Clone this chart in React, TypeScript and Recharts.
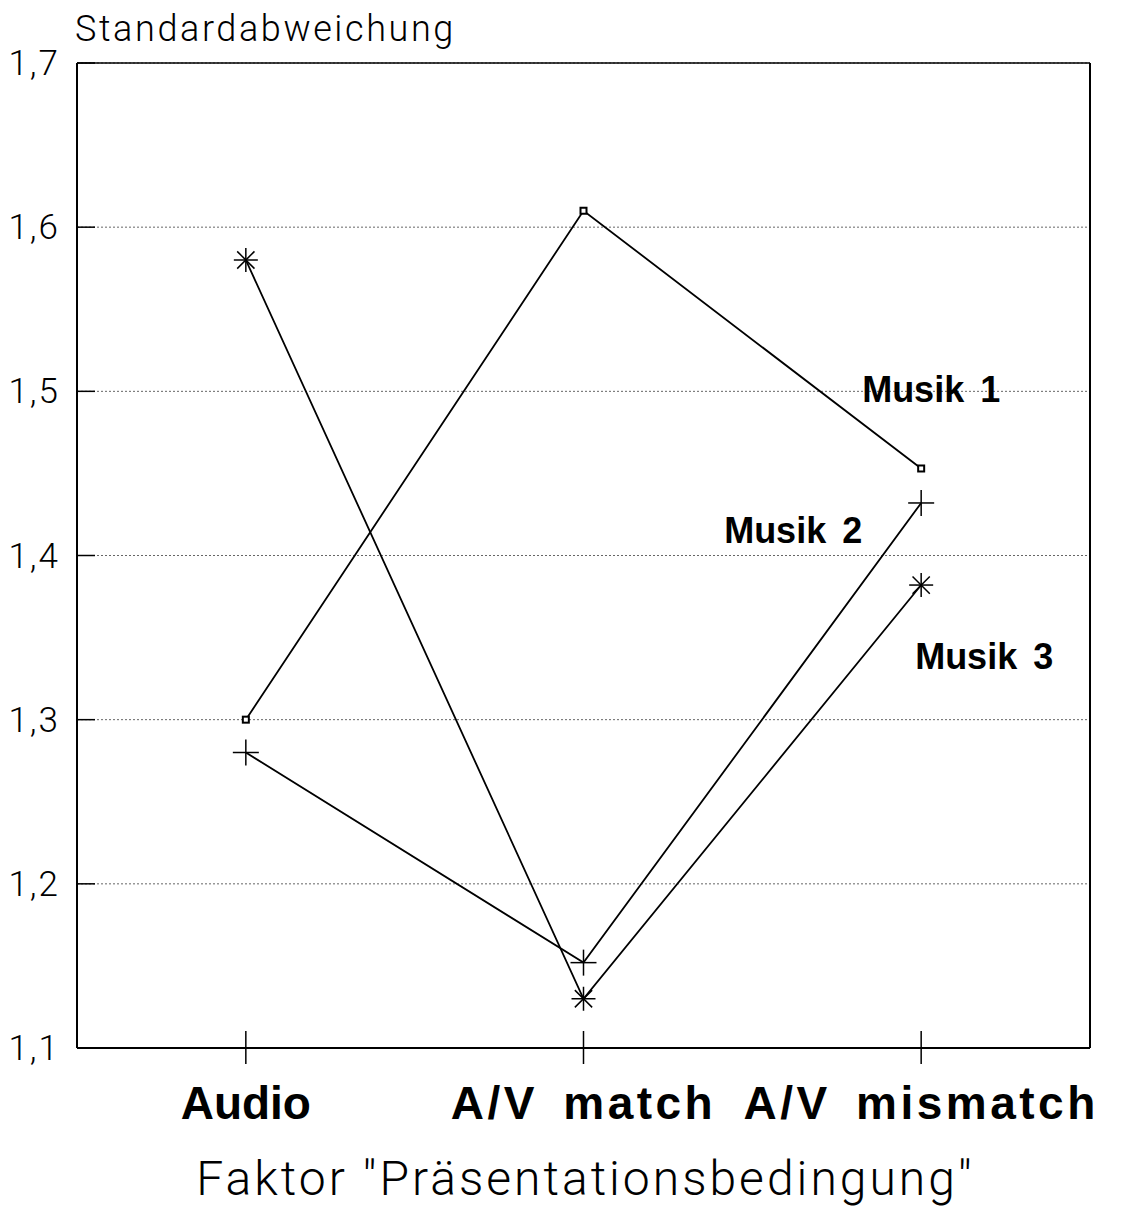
import React from "react";
import { LineChart, Line, XAxis, YAxis, CartesianGrid, Label, LabelList, ReferenceLine } from "recharts";

const categories = ["Audio", "A/V match", "A/V mismatch"];
const musik1 = [1.3, 1.61, 1.453];
const musik2 = [1.28, 1.152, 1.432];
const musik3 = [1.58, 1.13, 1.382];
const yTicks = [1.1, 1.2, 1.3, 1.4, 1.5, 1.6, 1.7];

const data = categories.map((cat, i) => ({ cat, m1: musik1[i], m2: musik2[i], m3: musik3[i] }));

const LIGHT = "Roboto, 'Liberation Sans', sans-serif";
const BOLD = "'Liberation Sans', Arial, sans-serif";

function SquareDot({ cx, cy, index }: any) {
  return <rect key={index} x={cx - 3} y={cy - 3} width={6} height={6} fill="#fff" stroke="#000" strokeWidth={2} />;
}

function PlusDot({ cx, cy, index }: any) {
  const r = 13;
  return (
    <g key={index} stroke="#000" strokeWidth={1.5}>
      <line x1={cx - r} y1={cy} x2={cx + r} y2={cy} />
      <line x1={cx} y1={cy - r} x2={cx} y2={cy + r} />
    </g>
  );
}

function StarDot({ cx, cy, index }: any) {
  const r = 12;
  const d = r * 0.72;
  return (
    <g key={index} stroke="#000" strokeWidth={1.5}>
      <line x1={cx - r} y1={cy} x2={cx + r} y2={cy} />
      <line x1={cx} y1={cy - r} x2={cx} y2={cy + r} />
      <line x1={cx - d} y1={cy - d} x2={cx + d} y2={cy + d} />
      <line x1={cx - d} y1={cy + d} x2={cx + d} y2={cy - d} />
    </g>
  );
}

function XTick({ x, y, payload }: any) {
  const label: string = payload.value;
  const spaced = label.includes("/");
  return (
    <g>
      <line x1={x} y1={y - 17} x2={x} y2={y + 16} stroke="#000" strokeWidth={1.5} />
      <text
        x={x}
        y={y + 71}
        textAnchor="middle"
        fontFamily={BOLD}
        fontWeight="bold"
        fontSize={46}
        letterSpacing={spaced ? 3.5 : 0}
        wordSpacing={spaced ? 9 : 0}
        fill="#000"
      >
        {label}
      </text>
    </g>
  );
}

function YTick({ x, y, payload }: any) {
  return (
    <g>
      <line x1={x} y1={y} x2={x + 18} y2={y} stroke="#000" strokeWidth={1.5} />
      <text x={x - 17} y={y + 12} textAnchor="end" fontFamily={LIGHT} fontWeight={300} fontSize={35} letterSpacing={2} fill="#000">
        {payload.value.toFixed(1).replace(".", ",")}
      </text>
    </g>
  );
}

function seriesLabel(name: string, dx: number, dy: number) {
  return (props: any) => {
    if (props.index !== categories.length - 1) return null;
    return (
      <text
        x={props.x + dx}
        y={props.y + dy}
        textAnchor="middle"
        fontFamily={BOLD}
        fontWeight="bold"
        fontSize={36}
        wordSpacing={6}
        fill="#000"
      >
        {name}
      </text>
    );
  };
}

export default function App() {
  return (
    <div style={{ width: 1122, height: 1199, background: "#fff" }}>
      <LineChart width={1122} height={1199} data={data} margin={{ top: 55, right: 40, left: 0, bottom: 0 }}>
        <CartesianGrid vertical={false} stroke="#666" strokeDasharray="2 2" strokeWidth={1} />
        <XAxis
          dataKey="cat"
          scale="band"
          height={159}
          tickSize={0}
          tickMargin={0}
          tickLine={false}
          axisLine={{ stroke: "#000", strokeWidth: 2 }}
          tick={<XTick />}
          interval={0}
        >
          <Label
            content={({ viewBox }: any) => (
              <text
                x={viewBox.x + viewBox.width / 2 + 2}
                y={viewBox.y + 147}
                textAnchor="middle"
                fontFamily={LIGHT}
                fontWeight={300}
                fontSize={48}
                letterSpacing={3}
                fill="#000"
              >
                Faktor "Präsentationsbedingung"
              </text>
            )}
          />
        </XAxis>
        <YAxis
          domain={[1.1, 1.7]}
          ticks={yTicks}
          width={69}
          tickSize={0}
          tickMargin={0}
          tickLine={false}
          axisLine={{ stroke: "#000", strokeWidth: 2 }}
          tick={<YTick />}
          interval={0}
        >
          <Label
            content={({ viewBox }: any) => (
              <text x={viewBox.x + viewBox.width - 2} y={viewBox.y - 22} fontFamily={LIGHT} fontWeight={300} fontSize={36} letterSpacing={2.6} fill="#000">
                Standardabweichung
              </text>
            )}
          />
        </YAxis>
        <ReferenceLine y={1.7} stroke="#000" strokeWidth={1.5} />
        <ReferenceLine x={categories[categories.length - 1]} position="end" stroke="#000" strokeWidth={2} />
        <Line dataKey="m1" stroke="#000" strokeWidth={1.8} dot={SquareDot} activeDot={false} isAnimationActive={false}>
          <LabelList dataKey="m1" content={seriesLabel("Musik 1", 10, -66)} />
        </Line>
        <Line dataKey="m2" stroke="#000" strokeWidth={1.8} dot={PlusDot} activeDot={false} isAnimationActive={false}>
          <LabelList dataKey="m2" content={seriesLabel("Musik 2", -128, 40)} />
        </Line>
        <Line dataKey="m3" stroke="#000" strokeWidth={1.8} dot={StarDot} activeDot={false} isAnimationActive={false}>
          <LabelList dataKey="m3" content={seriesLabel("Musik 3", 63, 84)} />
        </Line>
      </LineChart>
    </div>
  );
}
